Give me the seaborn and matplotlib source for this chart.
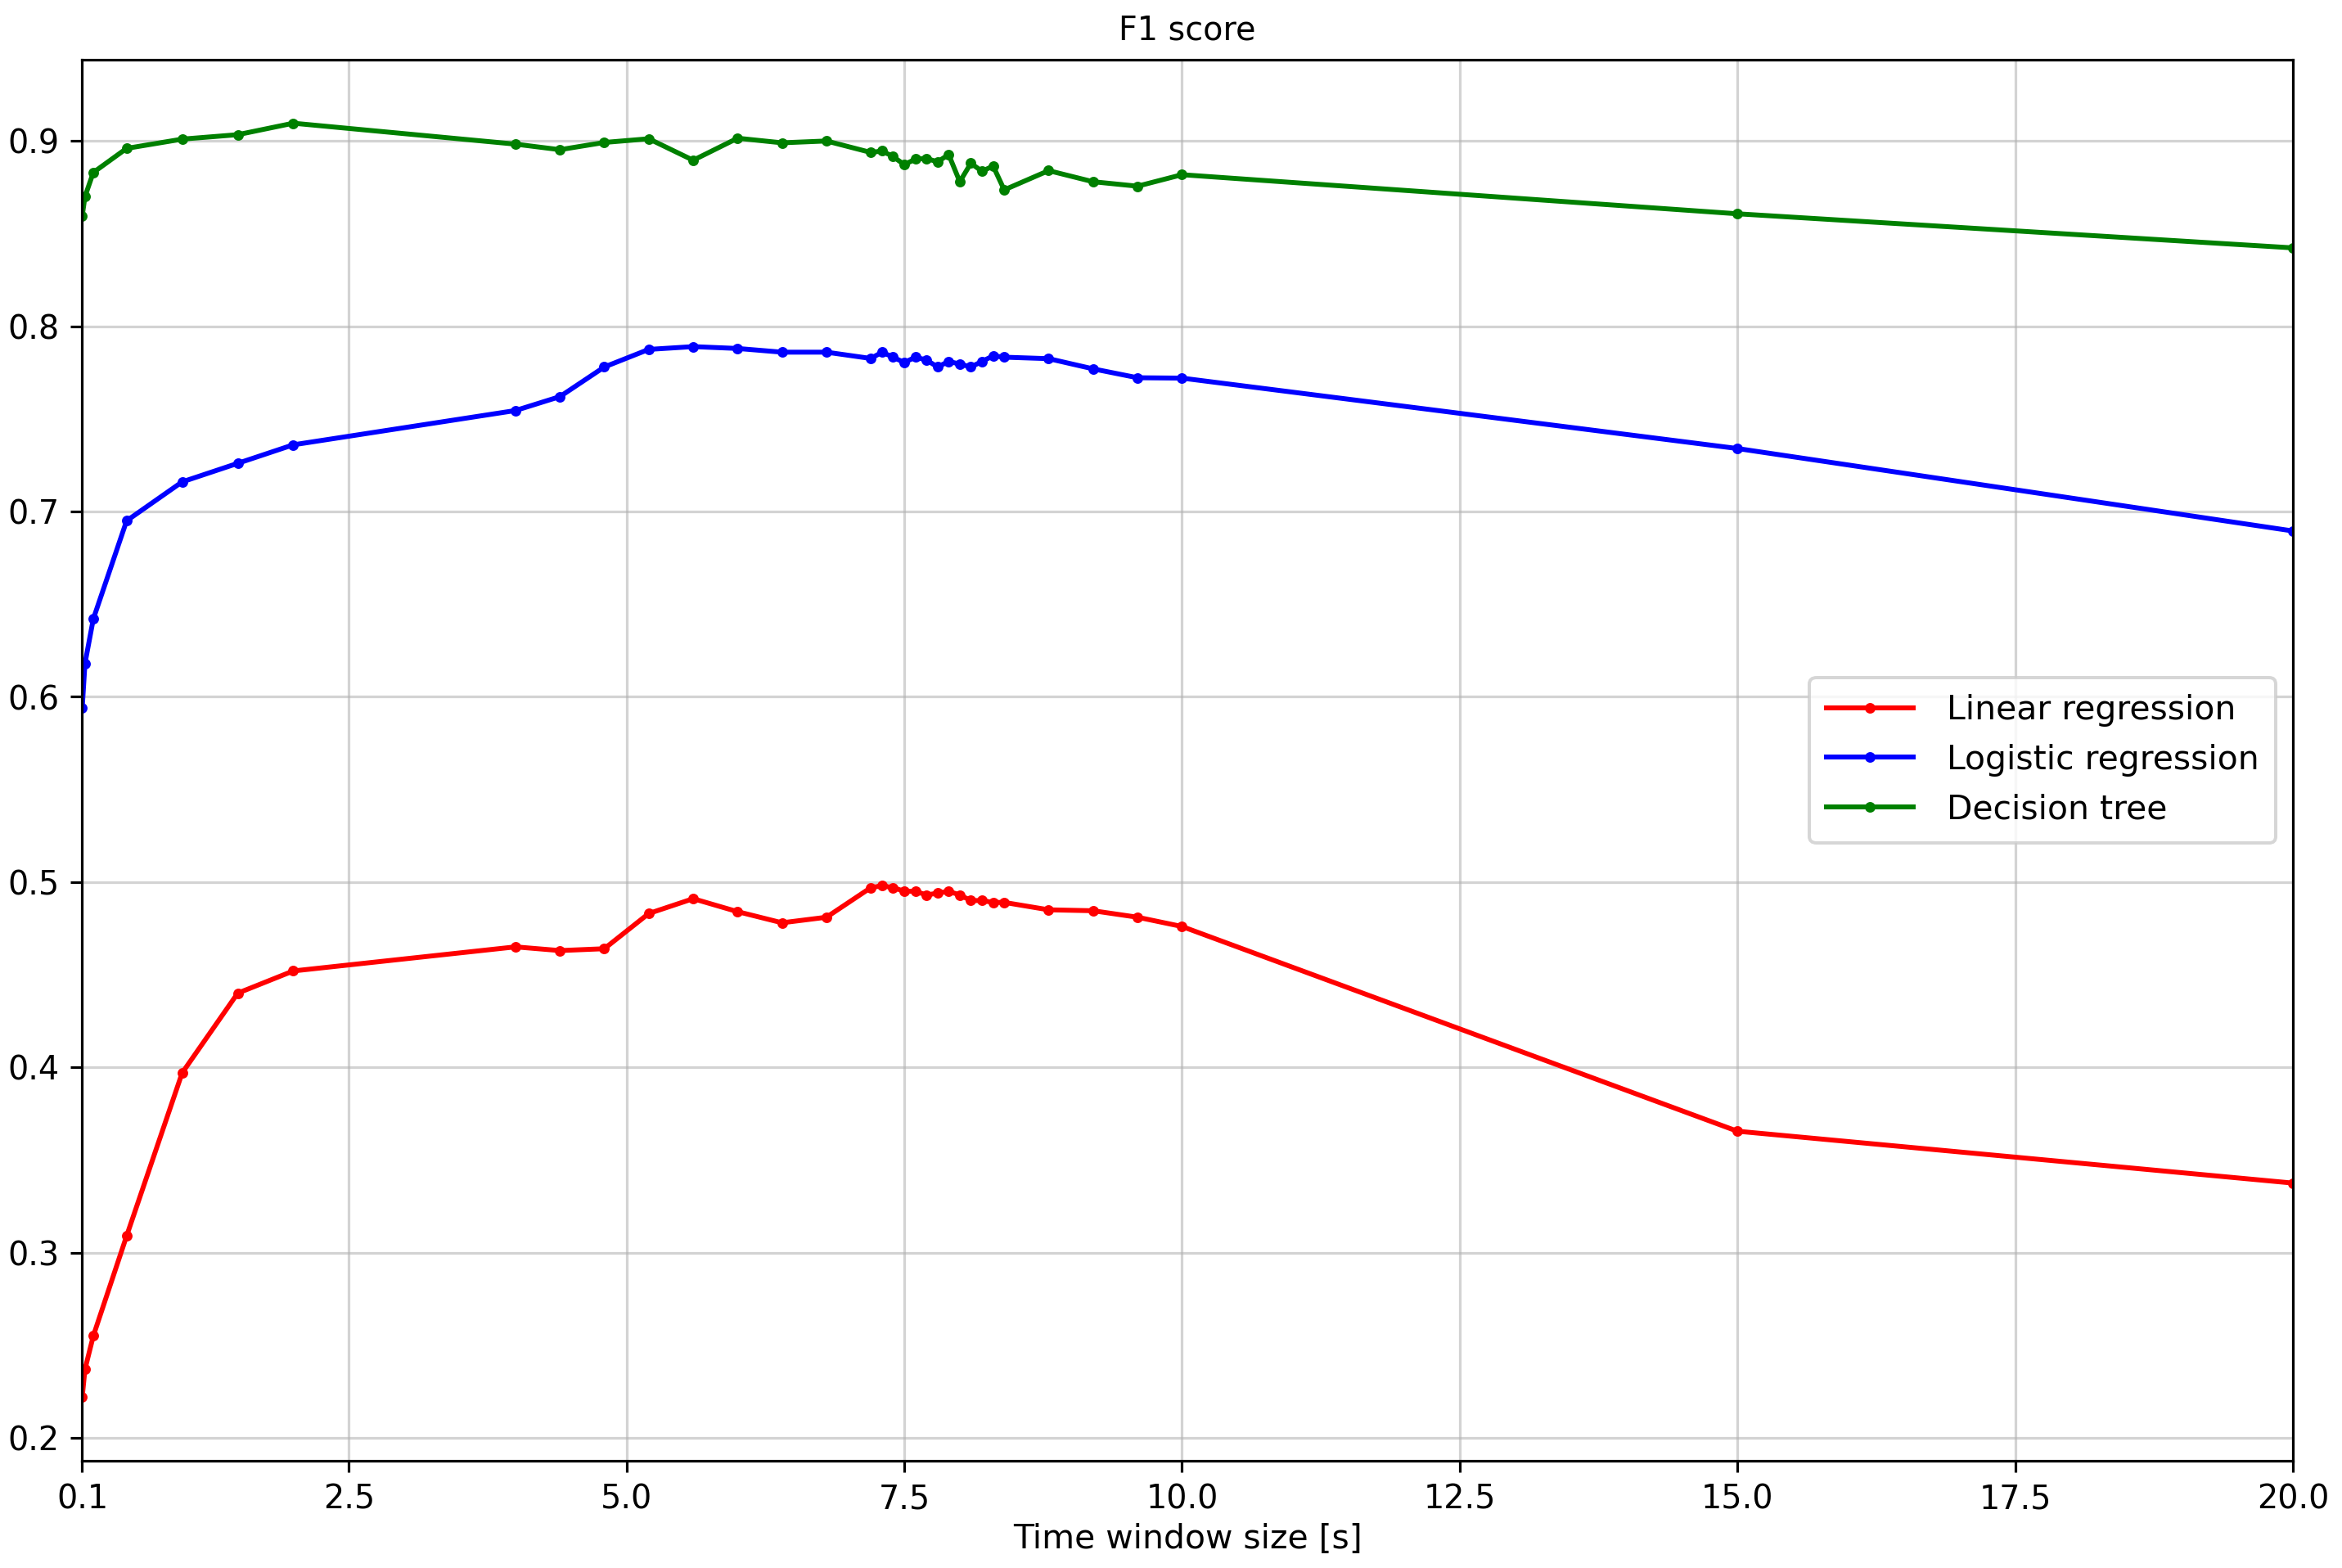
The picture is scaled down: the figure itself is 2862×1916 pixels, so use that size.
import matplotlib
matplotlib.use("Agg")
import matplotlib.pyplot as plt
import seaborn as sns
import pandas as pd

# Data
window_size = [0.1, 0.125, 0.2, 0.5, 1.0, 1.5, 2.0, 4.0, 4.4, 4.8, 5.2, 5.6, 6.0, 6.4, 6.8,
               7.2, 7.3, 7.4, 7.5, 7.6, 7.7, 7.8, 7.9, 8.0, 8.1, 8.2, 8.3, 8.4,
               8.8, 9.2, 9.6, 10.0, 15.0, 20.0]

linear_regression = [0.222, 0.237, 0.255, 0.309, 0.397, 0.440, 0.452, 0.465, 0.463, 0.464,
                     0.483, 0.491, 0.484, 0.478, 0.481, 0.497, 0.498, 0.497, 0.495, 0.495,
                     0.493, 0.494, 0.495, 0.493, 0.490, 0.490, 0.489, 0.489, 0.485, 0.4845,
                     0.481, 0.476, 0.3655, 0.3375]

logistic_regression = [0.594, 0.618, 0.642, 0.695, 0.716, 0.726, 0.736, 0.7545, 0.762, 0.778,
                       0.7875, 0.789, 0.788, 0.786, 0.786, 0.7826, 0.786, 0.7833, 0.7804, 0.7833,
                       0.7818, 0.778, 0.781, 0.7796, 0.778, 0.781, 0.784, 0.7833, 0.7825, 0.777,
                       0.7722, 0.772, 0.734, 0.6895]

decision_tree = [0.8595, 0.870, 0.883, 0.896, 0.901, 0.9034, 0.9096, 0.8983, 0.8953, 0.8992,
                 0.9012, 0.8896, 0.9015, 0.899, 0.900, 0.8938, 0.8946, 0.8916, 0.8872, 0.8902,
                 0.8906, 0.8887, 0.8927, 0.878, 0.888, 0.8836, 0.8865, 0.8736, 0.884, 0.878,
                 0.8756, 0.8818, 0.8607, 0.8423]

series_names = ["Linear regression", "Logistic regression", "Decision tree"]
series_colors = ["red", "blue", "green"]
x_ticks = [0.1, 2.5, 5.0, 7.5, 10.0, 12.5, 15.0, 17.5, 20.0]

df = pd.DataFrame({
    "x": window_size * 3,
    "y": linear_regression + logistic_regression + decision_tree,
    "model": [series_names[0]] * len(window_size)
             + [series_names[1]] * len(window_size)
             + [series_names[2]] * len(window_size),
})

fig = plt.figure(figsize=(10, 6.695), dpi=286.2)
ax = fig.add_axes([0.0351, 0.0684, 0.9439, 0.8936])

for name, color in zip(series_names, series_colors):
    sub = df[df["model"] == name]
    sns.lineplot(data=sub, x="x", y="y", ax=ax, color=color, marker=".",
                 markersize=5, markeredgecolor=color, markeredgewidth=0.75,
                 linewidth=1.5, label=name, sort=False, estimator=None)

ax.set_xlim(0.1, 20.0)
ax.set_xticks(x_ticks)
ax.grid(True, color="#b0b0b0", linewidth=0.8, alpha=0.55)
ax.set_title("F1 score", fontsize=10)
ax.set_xlabel("Time window size [s]", fontsize=10.3, labelpad=2)
ax.set_ylabel("")
ax.legend(loc="center right", fontsize=10.3, handlelength=2.6,
          handletextpad=1.0, borderpad=0.5)
for s in ax.spines.values():
    s.set_color("black")
    s.set_linewidth(0.8)

fig.savefig("out.png", dpi=286.2)
